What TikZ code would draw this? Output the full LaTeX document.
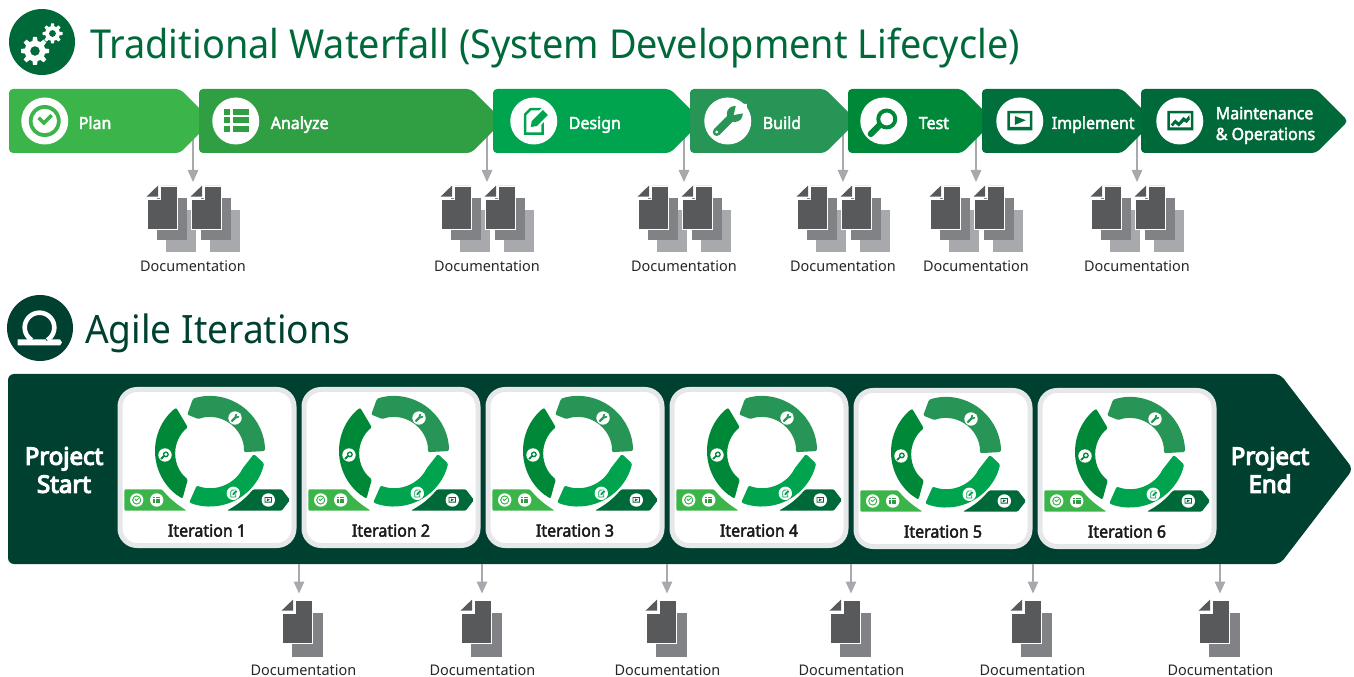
\documentclass[tikz,border=0pt]{standalone}
\usepackage{fontspec}
\setmainfont{Noto Sans}
\newfontfamily\titlefont[FakeStretch=0.95]{Noto Sans}
\newfontfamily\stagefont[FakeStretch=0.95,FakeBold=2.5]{Noto Sans}
\newfontfamily\docfont[FakeStretch=0.985]{Noto Sans}
\newfontfamily\projfont[FakeBold=5]{Noto Sans}
\usetikzlibrary{shapes,arrows.meta,calc,positioning,backgrounds}

\newlength\pxu
\setlength\pxu{0.75pt}

\definecolor{stageplan}{RGB}{59,181,74}
\definecolor{stageanalyze}{RGB}{48,158,67}
\definecolor{stagedesign}{RGB}{0,164,79}
\definecolor{stagebuild}{RGB}{39,149,86}
\definecolor{stagetest}{RGB}{0,136,57}
\definecolor{stageimplement}{RGB}{0,111,60}
\definecolor{stagemaint}{RGB}{0,105,58}
\definecolor{agiledark}{RGB}{0,64,48}
\definecolor{docfront}{RGB}{88,89,91}
\definecolor{docmid}{RGB}{128,130,133}
\definecolor{docback}{RGB}{167,169,172}
\definecolor{cardedge}{RGB}{230,231,232}

\tikzset{
  iconplan/.pic={
    \fill[white] (0,0) circle (23.5);
    \path[pic actions,even odd rule] (0,0) circle (16) (0,0) circle (12.3);
    \path[pic actions] (-7.5,-2)--(-5,-4.5)--(-1,-0.5)--(5.5,-7)--(8,-4.5)--(-1,4.5)--cycle;
  },
  iconanalyze/.pic={
    \fill[white] (0,0) circle (23.5);
    \foreach \rowtop/\rowbot in {-12/-6.3,-3.7/2,4.7/11}{
      \path[pic actions] (-12,\rowtop) rectangle (-5.3,\rowbot);
      \path[pic actions] (-2.7,\rowtop) rectangle (13.3,\rowbot);
    }
  },
  icondesign/.pic={
    \fill[white] (0,0) circle (23.5);
    \path[pic actions,even odd rule] (-4,-13)--(10,-13)--(10,14)--(-10,14)--(-10,-7)--cycle
      (-3,-10.5)--(7.5,-10.5)--(7.5,11.5)--(-7.5,11.5)--(-7.5,-6)--cycle;
    \fill[white] (-5,8)--(-4,-1)--(9,-14)--(17,-6)--(4,7)--cycle;
    \path[pic actions] (-3,6)--(-2,0)--(9,-11)--(14,-6)--(3,5)--cycle;
  },
  iconbuild/.pic={
    \fill[white] (0,0) circle (23.5);
    \path[pic actions] (7,-7) circle (8);
    \path[pic actions] (-13.8,8.2)--(-8.2,13.8)--(7.8,-2.2)--(2.2,-7.8)--cycle;
    \path[pic actions] (-11,11) circle (4);
    \fill[white] (6,-6)--(8.5,-17)--(19,-17)--(19,-8.5)--cycle;
    \fill[white] (-11,11) circle (1.7);
  },
  icontest/.pic={
    \fill[white] (0,0) circle (23.5);
    \path[pic actions,even odd rule] (3,-2) circle (10.5) (3,-2) circle (6.5);
    \path[pic actions] (-15.2,10.8)--(-10.8,15.2)--(-1.8,6.2)--(-6.2,1.8)--cycle;
    \path[pic actions] (-13,13) circle (3.1);
  },
  iconimplement/.pic={
    \fill[white] (0,0) circle (23.5);
    \path[pic actions,even odd rule] (-12.5,-10) rectangle (12.5,9.5) (-10,-7.5) rectangle (10,6);
    \path[pic actions] (-5,-5)--(6,-0.8)--(-5,4)--cycle;
  },
  iconmaint/.pic={
    \fill[white] (0,0) circle (23.5);
    \path[pic actions,even odd rule] (-12.5,-10) rectangle (13.5,9.5) (-10,-7.5) rectangle (11,6.5);
    \path[pic actions] (-9,3.5)--(-4.5,-1.5)--(-1,1.5)--(3.5,-4)--(6.5,-2)--(9.5,-6)--(10,-1.5)--(7,2)--(4,0.5)--(-1,5.5)--(-4.5,2.5)--(-7,5.5)--cycle;
  },
  docsheet/.pic={
    \path[pic actions] (13.5,0)--(30,0)--(30,43)--(0,43)--(0,13.5)--(13.5,13.5)--cycle;
    \fill[docfront] (-0.4,10.6)--(11,-0.4)--(11,10.6)--cycle;
  },
  docstack/.pic={
    \fill[docback] (19,24) rectangle +(30,42.5);
    \fill[docmid] (9.5,12) rectangle +(30,42.5);
    \pic[fill=docfront,draw=white,line width=0.5pt] {docsheet};
  },
  docpair/.pic={
    \pic at (-46,0) {docstack};
    \pic at (-2,0) {docstack};
  },
  docsingle/.pic={
    \fill[docmid] (-11.5,13) rectangle +(30.5,43.5);
    \pic[fill=docfront,draw=white,line width=0.5pt] at (-21.5,0) {docsheet};
  },
  gear/.pic={
    \fill[white] (0,0) circle (0.74);
    \foreach \ang in {0,45,...,315}
      \fill[white,rotate=\ang] (-0.2,0.6)--(0.2,0.6)--(0.14,1)--(-0.14,1)--cycle;
    \path[pic actions] (0,0) circle (0.34);
  },
  iterring/.pic={
    \fill[stageplan,rounded corners=1pt] (-85.7,59.7)--(-85.7,38.3)--(-48.3,38.3) to[bend right=8] (-23.3,59.7)--cycle;
    \fill[stagemaint,rounded corners=1pt] (16.7,59.7) to[bend right=10] (43.3,38.3)--(71.7,38.3)--(80,49)--(71.7,59.7)--cycle;
    \begin{scope}[y=\pxu,rounded corners=1pt]
      \fill[stagebuild] (108:55) arc[start angle=108,end angle=0,radius=55]--(-2:34) arc[start angle=-2,end angle=110,radius=34]--(122:43)--cycle;
      \fill[stagedesign] (-4:44)--(-13:55.5) arc[start angle=-13,end angle=-112,radius=55.5]--(-111:37) arc[start angle=-111,end angle=-28,radius=37]--cycle;
      \fill[stagetest] (128:55) arc[start angle=128,end angle=240,radius=55]--(232:36) arc[start angle=232,end angle=128,radius=33]--cycle;
    \end{scope}
    \pic[fill=stagebuild,scale=0.285] at (25,-33) {iconbuild};
    \pic[fill=stagedesign,scale=0.285] at (23.3,42.3) {icondesign};
    \pic[fill=stagetest,scale=0.285] at (-45,4) {icontest};
    \pic[fill=stageplan,scale=0.285] at (-73.3,49) {iconplan};
    \pic[fill=stageanalyze,scale=0.285] at (-53.3,49) {iconanalyze};
    \pic[fill=stagemaint,scale=0.285] at (58.3,49) {iconimplement};
  }
}

\begin{document}
\begin{tikzpicture}[
  x=\pxu, y=-\pxu,
  headicon/.style={circle, inner sep=0pt, minimum size=66\pxu},
  sectiontitle/.style={inner sep=0pt, font=\titlefont\fontsize{29.9}{32}\selectfont},
  stage/.style={signal, signal to=east, signal pointer angle=90, inner sep=0pt, outer sep=0pt, minimum height=64\pxu, rounded corners=4\pxu, anchor=west},
  stageicon/.style={circle, inner sep=0pt, minimum size=47\pxu},
  stagelabel/.style={inner sep=0pt, text=white, align=left, text height=12pt, text depth=0pt, font=\stagefont\fontsize{12.6}{15.6}\selectfont},
  doccap/.style={inner sep=0pt, font=\docfont\fontsize{11}{12}\selectfont, text=black!85},
  docarrow/.style={draw=docback, line width=1.1pt, -{Triangle[length=9pt,width=7.9pt]}},
  itercard/.style={draw=cardedge, fill=white, line width=5\pxu, rounded corners=17\pxu, minimum width=174\pxu, minimum height=156\pxu, inner sep=0pt},
  iterlabel/.style={inner sep=0pt, font=\stagefont\fontsize{12.6}{12}\selectfont, text=black!90},
  projlabel/.style={inner sep=0pt, text=white, align=center, font=\projfont\fontsize{18}{21}\selectfont}
]
  \useasboundingbox (0,0) rectangle (1354,677);

  % waterfall heading
  \node (wficon) [headicon, fill=stagemaint] at (42,42) {};
  \pic[fill=stagemaint,scale=14] at (35,51) {gear};
  \pic[fill=stagemaint,scale=10] at (52.5,33.5) {gear};
  \node (wftitle) [sectiontitle, anchor=base west, text=stagemaint] at (90,59) {Traditional Waterfall (System Development Lifecycle)};

  % waterfall stages, later ones lie over the tip of the one before
  \foreach \nm/\sx/\sw/\igap/\lgap/\ly/\lab in {
      plan/9/203/9/7.5/0/Plan,
      analyze/199/304/9.75/8.25/0/Analyze,
      design/493/209/12.75/8.25/0/Design,
      build/690/167/10.5/8.25/0/Build,
      test/848/146/9/8.25/0/Test,
      implement/982/172/10.5/6/0/Implement,
      maint/1141/207/11.25/9/-8.25/{Maintenance\\\& Operations}}{
    \node (\nm) [stage, fill=stage\nm, minimum width=\sw\pxu] at (\sx,121) {};
    \node (\nm icon) [stageicon, right=\igap pt of \nm.west] {};
    \pic[fill=stage\nm] at (\nm icon) {icon\nm};
    \node (\nm label) [stagelabel, right=\lgap pt of \nm icon, yshift=\ly pt] {\lab};
  }

  % one document pile per hand-over
  \foreach \nm/\ax in {plan/193, analyze/487, design/684, build/843, test/976, implement/1137}{
    \coordinate (\nm doc) at (\ax,182);
    \node (\nm cap) [doccap] at (\ax,266) {Documentation};
    \pic at (\ax,186) {docpair};
    \begin{scope}[on background layer]
      \draw[docarrow] (\nm.center -| \nm doc) -- (\nm doc);
    \end{scope}
  }

  % agile heading
  \node (agicon) [headicon, fill=agiledark] at (40,328) {};
  \begin{scope}[shift={(39.5,327.5)},y=\pxu]
    \draw[white, line width=4.6\pxu] (-58:14.8) arc[start angle=-58,end angle=238,radius=14.8];
  \end{scope}
  \fill[white] (17.5,339.5)--(46,339.5)--(46,341)--(52,339.5)--(60,339.5)--(62,342.5)--(60,345.5)--(17.5,345.5)--cycle;
  \node (agtitle) [sectiontitle, font=\titlefont\fontsize{29.3}{32}\selectfont, anchor=base west, text=agiledark] at (85,344) {Agile Iterations};

  % agile band
  \node (agile) [stage, signal pointer angle=105, fill=agiledark, minimum width=1345\pxu, minimum height=190\pxu, rounded corners=6\pxu] at (8,469) {};
  \node (pstart) [projlabel] at (64,470) {Project\\Start};
  \node (pend) [projlabel] at (1270,470) {Project\\End};

  % iterations
  \foreach \n/\cx/\cy/\capx/\ax in {
      1/207/467.5/303.5/299,
      2/391/467.5/482.5/482,
      3/575/467.5/667.5/667,
      4/759/467.5/851.5/851,
      5/943/468.5/1032.5/1033,
      6/1127/468.5/1220.5/1220}{
    \node (iter\n) [itercard] at (\cx,\cy) {};
    \pic at ($(iter\n)+(3,-16.5)$) {iterring};
    \node (iterlabel\n) [iterlabel] at (\cx,\cy+63) {Iteration \n};
    \coordinate (iterdoc\n) at (\ax,593.5);
    \node (itercap\n) [doccap] at (\capx,670) {Documentation};
    \pic at (\capx,600) {docsingle};
    \draw[docarrow] (agile.south -| iterdoc\n) -- (iterdoc\n);
  }
\end{tikzpicture}
\end{document}
